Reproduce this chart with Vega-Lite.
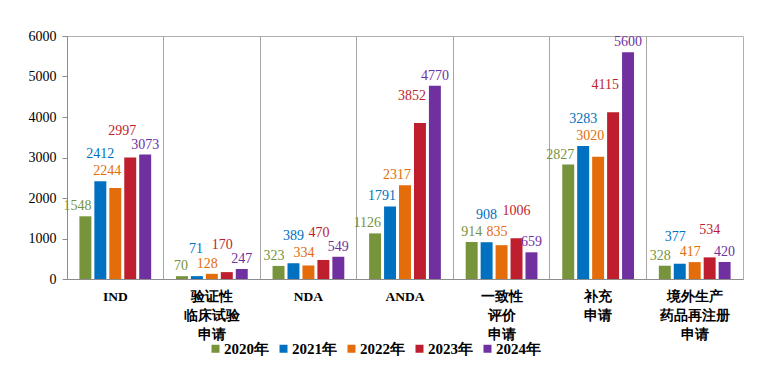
{
  "$schema": "https://vega.github.io/schema/vega-lite/v6.json",
  "autosize": "none",
  "width": 676,
  "height": 243,
  "padding": {"left": 67, "top": 36, "right": 34, "bottom": 92},
  "background": "white",
  "config": {
    "view": {"stroke": "#B0B0B0", "strokeWidth": 1},
    "font": "Liberation Serif",
    "axis": {"labelFont": "Liberation Serif"},
    "legend": {"labelFont": "Liberation Serif"},
    "text": {"font": "Liberation Serif"}
  },
  "data": {
    "values": [
      {"cat": "IND", "year": "2020年", "v": 1548},
      {"cat": "IND", "year": "2021年", "v": 2412},
      {"cat": "IND", "year": "2022年", "v": 2244},
      {"cat": "IND", "year": "2023年", "v": 2997},
      {"cat": "IND", "year": "2024年", "v": 3073},
      {"cat": "验证性\n临床试验\n申请", "year": "2020年", "v": 70},
      {"cat": "验证性\n临床试验\n申请", "year": "2021年", "v": 71},
      {"cat": "验证性\n临床试验\n申请", "year": "2022年", "v": 128},
      {"cat": "验证性\n临床试验\n申请", "year": "2023年", "v": 170},
      {"cat": "验证性\n临床试验\n申请", "year": "2024年", "v": 247},
      {"cat": "NDA", "year": "2020年", "v": 323},
      {"cat": "NDA", "year": "2021年", "v": 389},
      {"cat": "NDA", "year": "2022年", "v": 334},
      {"cat": "NDA", "year": "2023年", "v": 470},
      {"cat": "NDA", "year": "2024年", "v": 549},
      {"cat": "ANDA", "year": "2020年", "v": 1126},
      {"cat": "ANDA", "year": "2021年", "v": 1791},
      {"cat": "ANDA", "year": "2022年", "v": 2317},
      {"cat": "ANDA", "year": "2023年", "v": 3852},
      {"cat": "ANDA", "year": "2024年", "v": 4770},
      {"cat": "一致性\n评价\n申请", "year": "2020年", "v": 914},
      {"cat": "一致性\n评价\n申请", "year": "2021年", "v": 908},
      {"cat": "一致性\n评价\n申请", "year": "2022年", "v": 835},
      {"cat": "一致性\n评价\n申请", "year": "2023年", "v": 1006},
      {"cat": "一致性\n评价\n申请", "year": "2024年", "v": 659},
      {"cat": "补充\n申请", "year": "2020年", "v": 2827},
      {"cat": "补充\n申请", "year": "2021年", "v": 3283},
      {"cat": "补充\n申请", "year": "2022年", "v": 3020},
      {"cat": "补充\n申请", "year": "2023年", "v": 4115},
      {"cat": "补充\n申请", "year": "2024年", "v": 5600},
      {"cat": "境外生产\n药品再注册\n申请", "year": "2020年", "v": 328},
      {"cat": "境外生产\n药品再注册\n申请", "year": "2021年", "v": 377},
      {"cat": "境外生产\n药品再注册\n申请", "year": "2022年", "v": 417},
      {"cat": "境外生产\n药品再注册\n申请", "year": "2023年", "v": 534},
      {"cat": "境外生产\n药品再注册\n申请", "year": "2024年", "v": 420}
    ]
  },
  "transform": [
    {
      "window": [
        {"op": "lead", "field": "v", "param": 1, "as": "nextv"},
        {"op": "lag", "field": "v", "param": 1, "as": "prevv"}
      ],
      "groupby": ["cat"],
      "sort": [{"field": "year", "order": "ascending"}],
      "frame": [null, null]
    },
    {"calculate": "datum.year == '2023年' || (datum.year == '2021年' && datum.cat != 'ANDA')", "as": "raised"},
    {"calculate": "datum.nextv != null && datum.nextv > datum.v", "as": "shiftl"},
    {"calculate": "datum.shiftl && datum.prevv != null && datum.prevv > datum.v ? datum.prevv : datum.v", "as": "ly"}
  ],
  "encoding": {
    "x": {
      "field": "cat", "type": "nominal", "sort": null,
      "scale": {"paddingInner": 0, "paddingOuter": 0},
      "axis": {
        "title": null, "labelAngle": 0, "labelExpr": "split(datum.label, '\\n')",
        "labelFontSize": 13.5, "labelFontWeight": "bold", "labelColor": "#000000",
        "labelLineHeight": 19, "labelPadding": 10, "labelBaseline": "top",
        "ticks": false, "domainColor": "#8C8C8C",
        "grid": true, "gridColor": "#A6A6A6", "bandPosition": 0
      }
    },
    "xOffset": {
      "field": "year", "type": "nominal",
      "scale": {"paddingInner": 0.2, "paddingOuter": 0.83}
    },
    "y": {
      "field": "v", "type": "quantitative",
      "scale": {"domain": [0, 6000]},
      "axis": {
        "title": null, "values": [0, 1000, 2000, 3000, 4000, 5000, 6000], "format": "d",
        "grid": false, "labelFontSize": 14, "labelColor": "#000000",
        "domainColor": "#8C8C8C", "tickColor": "#8C8C8C", "tickSize": 5, "labelPadding": 6
      }
    },
    "color": {
      "field": "year", "type": "nominal",
      "scale": {
        "domain": ["2020年", "2021年", "2022年", "2023年", "2024年"],
        "range": ["#77933C", "#0070C0", "#E46C0A", "#BE1E2D", "#7030A0"]
      },
      "legend": {
        "title": null, "orient": "none", "direction": "horizontal",
        "legendX": 141, "legendY": 305,
        "symbolType": "square", "symbolSize": 64, "symbolStrokeWidth": 0,
        "labelFontSize": 15, "labelFontWeight": "bold", "labelColor": "#000000",
        "labelOffset": 1, "columnPadding": 7
      }
    }
  },
  "layer": [
    {"mark": {"type": "bar"}},
    {
      "transform": [{"filter": "!datum.raised && !datum.shiftl"}],
      "mark": {"type": "text", "baseline": "bottom", "dy": -3, "fontSize": 14},
      "encoding": {
        "y": {"field": "ly", "type": "quantitative"},
        "text": {"field": "v", "type": "quantitative", "format": "d"}
      }
    },
    {
      "transform": [{"filter": "!datum.raised && datum.shiftl"}],
      "mark": {"type": "text", "baseline": "bottom", "align": "right", "dx": 6, "dy": -3, "fontSize": 14},
      "encoding": {
        "y": {"field": "ly", "type": "quantitative"},
        "text": {"field": "v", "type": "quantitative", "format": "d"}
      }
    },
    {
      "transform": [{"filter": "datum.raised && !datum.shiftl"}],
      "mark": {"type": "text", "baseline": "bottom", "dy": -20, "fontSize": 14},
      "encoding": {
        "y": {"field": "ly", "type": "quantitative"},
        "text": {"field": "v", "type": "quantitative", "format": "d"}
      }
    },
    {
      "transform": [{"filter": "datum.raised && datum.shiftl"}],
      "mark": {"type": "text", "baseline": "bottom", "align": "right", "dx": 6, "dy": -20, "fontSize": 14},
      "encoding": {
        "y": {"field": "ly", "type": "quantitative"},
        "text": {"field": "v", "type": "quantitative", "format": "d"}
      }
    }
  ]
}
